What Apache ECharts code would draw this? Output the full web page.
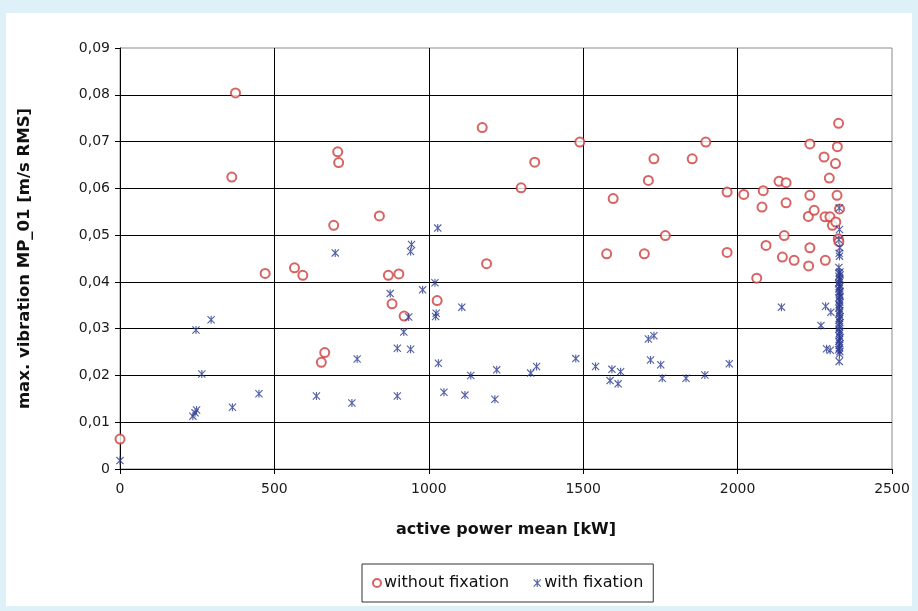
<!DOCTYPE html>
<html>
<head>
<meta charset="utf-8">
<script src="https://cdn.jsdelivr.net/npm/echarts@6/dist/echarts.min.js"></script>
<style>
html,body{margin:0;padding:0;background:#DEF1F9;}
#chart{width:918px;height:611px;}
</style>
</head>
<body>
<div id="chart"></div>
<script>
// ---- data ----
var xTicks = [0, 500, 1000, 1500, 2000, 2500];
var yTicks = [0, 0.01, 0.02, 0.03, 0.04, 0.05, 0.06, 0.07, 0.08, 0.09];
var seriesNames = ['without fixation', 'with fixation'];

var withoutFixation = [
  [0, 0.0064], [362, 0.0624], [374, 0.0804], [470, 0.0418], [565, 0.0430],
  [592, 0.0414], [652, 0.0228], [663, 0.0249], [692, 0.0521], [705, 0.0678],
  [708, 0.0655], [840, 0.0541], [869, 0.0414], [881, 0.0353], [903, 0.0417],
  [920, 0.0327], [1027, 0.0360], [1173, 0.0730], [1187, 0.0439], [1299, 0.0601],
  [1343, 0.0656], [1489, 0.0699], [1576, 0.0460], [1597, 0.0578], [1698, 0.0460],
  [1711, 0.0617], [1729, 0.0663], [1766, 0.0499], [1853, 0.0663], [1897, 0.0699],
  [1966, 0.0592], [1966, 0.0463], [2020, 0.0587], [2062, 0.0408], [2079, 0.0560],
  [2083, 0.0595], [2092, 0.0478], [2134, 0.0615], [2145, 0.0453], [2151, 0.0499],
  [2157, 0.0612], [2157, 0.0569], [2183, 0.0446], [2229, 0.0540], [2230, 0.0434],
  [2234, 0.0695], [2234, 0.0585], [2234, 0.0473], [2248, 0.0553], [2280, 0.0667],
  [2283, 0.0539], [2284, 0.0446], [2297, 0.0622], [2299, 0.0539], [2307, 0.0521],
  [2317, 0.0653], [2318, 0.0528], [2322, 0.0585], [2323, 0.0689], [2327, 0.0739],
  [2326, 0.0492], [2328, 0.0486], [2330, 0.0556]
];

var withFixation = [
  [0, 0.0018], [236, 0.0113], [243, 0.0120], [248, 0.0126], [246, 0.0297],
  [265, 0.0203], [295, 0.0319], [364, 0.0132], [450, 0.0161], [636, 0.0156],
  [697, 0.0462], [751, 0.0141], [768, 0.0235], [875, 0.0375], [898, 0.0258],
  [898, 0.0156], [919, 0.0293], [935, 0.0325], [941, 0.0256], [941, 0.0465],
  [944, 0.0480], [980, 0.0383], [1020, 0.0398], [1022, 0.0326], [1024, 0.0333],
  [1029, 0.0515], [1031, 0.0226], [1049, 0.0164], [1107, 0.0346], [1117, 0.0158],
  [1136, 0.0200], [1214, 0.0149], [1220, 0.0212], [1330, 0.0205], [1349, 0.0219],
  [1476, 0.0236], [1540, 0.0219], [1587, 0.0189], [1593, 0.0213], [1613, 0.0182],
  [1621, 0.0208], [1711, 0.0278], [1718, 0.0233], [1729, 0.0285], [1751, 0.0223],
  [1756, 0.0194], [1833, 0.0194], [1894, 0.0201], [1973, 0.0225], [2142, 0.0346],
  [2270, 0.0307], [2285, 0.0348], [2288, 0.0257], [2300, 0.0254], [2302, 0.0335],
  [2329, 0.0558], [2330, 0.0512], [2328, 0.0490], [2331, 0.0473], [2329, 0.0461],
  [2330, 0.0455], [2328, 0.0431], [2331, 0.0421], [2329, 0.0419], [2332, 0.0415],
  [2328, 0.0412], [2330, 0.0407], [2331, 0.0404], [2329, 0.0399], [2327, 0.0396],
  [2332, 0.0392], [2330, 0.0389], [2328, 0.0385], [2331, 0.0380], [2329, 0.0377],
  [2330, 0.0373], [2332, 0.0369], [2328, 0.0366], [2330, 0.0361], [2331, 0.0357],
  [2329, 0.0352], [2330, 0.0349], [2328, 0.0344], [2331, 0.0339], [2330, 0.0335],
  [2329, 0.0331], [2332, 0.0326], [2330, 0.0322], [2328, 0.0318], [2331, 0.0313],
  [2329, 0.0309], [2330, 0.0304], [2328, 0.0299], [2331, 0.0294], [2330, 0.0290],
  [2329, 0.0285], [2332, 0.0281], [2330, 0.0277], [2328, 0.0273], [2331, 0.0268],
  [2329, 0.0264], [2330, 0.0259], [2327, 0.0255], [2331, 0.0251], [2330, 0.0246],
  [2329, 0.0230]
];

// ---- chart ----
var RED = '#CE3C3C';
var BLUE = '#2B3990';
var STAR = 'path://M4.3,0 L5.7,0 L5.7,10 L4.3,10 Z M0,1 L1,0 L10,9 L9,10 Z M9,0 L10,1 L1,10 L0,9 Z';
var FONT = 'DejaVu Sans';

function fmtY(v) {
  if (Math.abs(v) < 1e-9) return '0';
  return v.toFixed(2).replace('.', ',');
}
function fmtX(v) { return String(Math.round(v)); }

var chart = echarts.init(document.getElementById('chart'), null, {renderer: 'canvas'});
chart.setOption({
  backgroundColor: 'transparent',
  animation: false,
  graphic: [{
    type: 'rect', z: -10, silent: true,
    shape: {x: 6, y: 13, width: 906, height: 593},
    style: {fill: '#ffffff'}
  }],
  grid: {
    left: 120, right: 26, top: 48, bottom: 142,
    show: true, borderColor: '#8a8a8a', borderWidth: 1, backgroundColor: '#ffffff'
  },
  xAxis: {
    type: 'value', min: xTicks[0], max: xTicks[xTicks.length - 1], interval: xTicks[1] - xTicks[0],
    name: 'active power mean [kW]', nameLocation: 'middle', nameGap: 53,
    nameTextStyle: {fontFamily: FONT, fontWeight: 'bold', fontSize: 16, color: '#111'},
    axisLine: {show: true, onZero: false, lineStyle: {color: '#000', width: 1}},
    axisTick: {show: true, length: 5, lineStyle: {color: '#000'}},
    axisLabel: {fontFamily: FONT, fontSize: 14, color: '#1a1a1a', margin: 13, formatter: fmtX},
    splitLine: {show: true, showMaxLine: false, lineStyle: {color: '#000', width: 1}}
  },
  yAxis: {
    type: 'value', min: yTicks[0], max: yTicks[yTicks.length - 1], interval: 0.01,
    name: 'max. vibration MP_01 [m/s RMS]', nameLocation: 'middle', nameGap: 87, nameRotate: 90,
    nameTextStyle: {fontFamily: FONT, fontWeight: 'bold', fontSize: 16.5, color: '#111'},
    axisLine: {show: true, onZero: false, lineStyle: {color: '#000', width: 1}},
    axisTick: {show: true, length: 5, lineStyle: {color: '#000'}},
    axisLabel: {fontFamily: FONT, fontSize: 14, color: '#1a1a1a', margin: 10, formatter: fmtY},
    splitLine: {show: true, showMaxLine: false, lineStyle: {color: '#000', width: 1}}
  },
  legend: {
    data: [
      {name: seriesNames[0], icon: 'emptyCircle'},
      {name: seriesNames[1], icon: STAR}
    ],
    left: 362, top: 564,
    itemWidth: 8, itemHeight: 8, itemGap: 24,
    padding: [11, 10, 11, 10],
    borderColor: '#333', borderWidth: 1, backgroundColor: '#fff',
    textStyle: {fontFamily: FONT, fontSize: 16, color: '#111', padding: [0, 0, 0, -2]}
  },
  series: [
    {
      name: seriesNames[0], type: 'scatter', data: withoutFixation,
      symbol: 'emptyCircle', symbolSize: 9,
      itemStyle: {color: RED, borderColor: RED, borderWidth: 1.2},
      z: 3
    },
    {
      name: seriesNames[1], type: 'scatter', data: withFixation,
      symbol: STAR, symbolSize: 8,
      itemStyle: {color: BLUE},
      z: 4
    }
  ]
});
</script>
</body>
</html>
